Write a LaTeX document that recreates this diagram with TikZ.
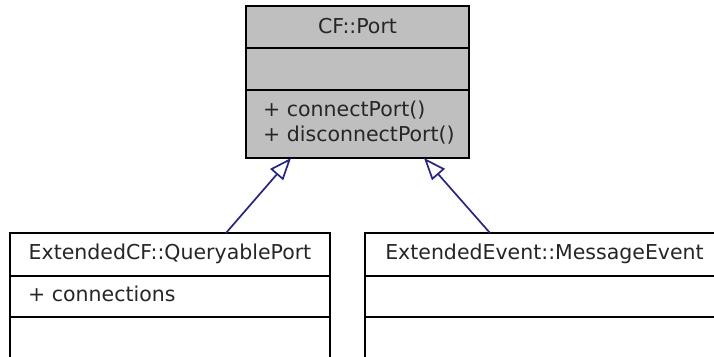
\documentclass[tikz,border=0pt]{standalone}
\usepackage{fontspec}
\setmainfont{DejaVu Sans}
\usetikzlibrary{arrows.meta}
\definecolor{portgray}{RGB}{191,191,191}
\definecolor{inhblue}{RGB}{38,38,128}
\tikzset{
  classbox/.style={draw=black, line width=1.6pt, rectangle, inner sep=0pt, outer sep=0pt, anchor=north west},
  divider/.style={draw=black, line width=1.6pt},
  umltext/.style={font=\fontsize{20.5}{24}\selectfont, inner sep=0pt, text=black!85},
  inherit/.style={draw=inhblue, line width=1.7pt, -{Triangle[open, length=22pt, width=17pt, line width=1.7pt]}}
}
\begin{document}
\begin{tikzpicture}[x=1pt,y=-1pt]
\useasboundingbox (0,0) rectangle (714,356);
\clip (0,0) rectangle (714,356);

% CF::Port
\node[classbox, fill=portgray, minimum width=223pt, minimum height=152pt] (port) at (246,6) {};
\draw[divider] (port.west |- 0,48) -- (port.east |- 0,48);
\draw[divider] (port.west |- 0,90) -- (port.east |- 0,90);
\node[umltext, anchor=base] (porttitle) at (357.5,33) {CF::Port};
\node[umltext, anchor=base west] (portop1) at (263,116) {+ connectPort()};
\node[umltext, anchor=base west] (portop2) at (263,141) {+ disconnectPort()};

% ExtendedCF::QueryablePort
\node[classbox, fill=white, minimum width=320pt, minimum height=140pt] (qp) at (10,233) {};
\draw[divider] (qp.west |- 0,276) -- (qp.east |- 0,276);
\draw[divider] (qp.west |- 0,317) -- (qp.east |- 0,317);
\node[umltext, anchor=base] (qptitle) at (170,259) {ExtendedCF::QueryablePort};
\node[umltext, anchor=base west] (qpattr) at (28,301) {+ connections};

% ExtendedEvent::MessageEvent
\node[classbox, fill=white, minimum width=359pt, minimum height=140pt] (me) at (365,233) {};
\draw[divider] (me.west |- 0,276) -- (me.east |- 0,276);
\draw[divider] (me.west |- 0,317) -- (me.east |- 0,317);
\node[umltext, anchor=base] (metitle) at (544.5,259) {ExtendedEvent::MessageEvent};

% generalisations
\draw[inherit] ([xshift=216pt]qp.north west) -- ([xshift=45pt]port.south west);
\draw[inherit] ([xshift=125pt]me.north west) -- ([xshift=178pt]port.south west);
\end{tikzpicture}
\end{document}
